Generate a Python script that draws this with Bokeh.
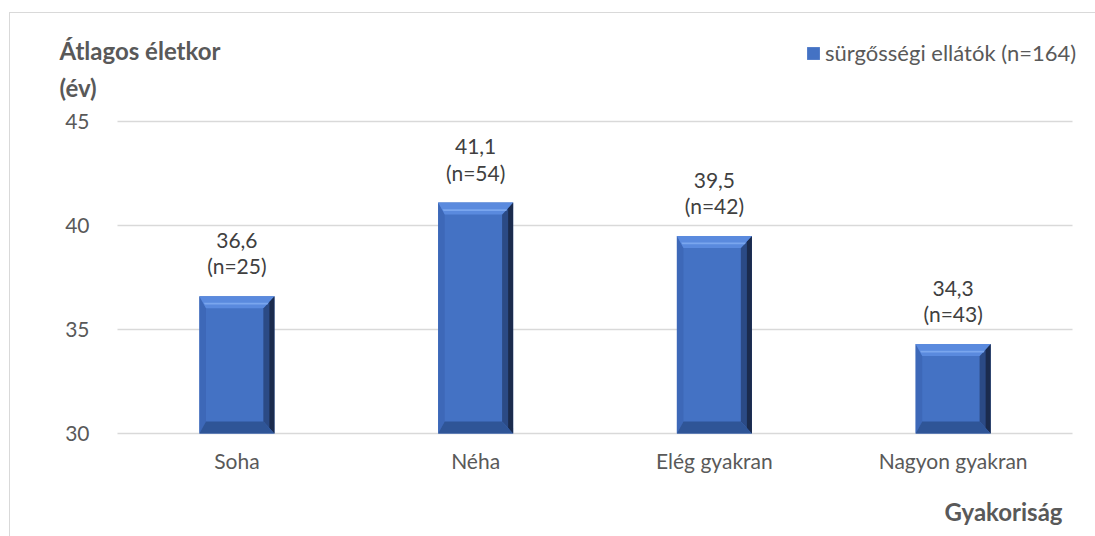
from bokeh.plotting import figure
from bokeh.models import Range1d, FixedTicker, Label, Legend, LegendItem, Title, Grid
from bokeh.core.properties import value
from bokeh.embed import file_html
from bokeh.resources import INLINE

# ---- data ----
categories = ["Soha", "Néha", "Elég gyakran", "Nagyon gyakran"]
mean_age = [36.6, 41.1, 39.5, 34.3]
group_n = [25, 54, 42, 43]
series_name = "sürgősségi ellátók (n=164)"
y_ticks = [30, 35, 40, 45]
y_title = "Átlagos életkor\n(év)"
x_title = "Gyakoriság"

# ---- layout / style ----
FONT = "Lato"
TXT = "#595959"
NC = len(categories)
Y0, Y1 = 30, 45
PX_X = 238.75          # pixels per category
PX_Y = 20.8            # pixels per year
FIG_W, FIG_H = 1085, 523
ML, MB = 48, 95        # left / bottom borders
FRAME_W = FIG_W - ML
FRAME_H = FIG_H - MB
PLOT_L = 59            # px from frame left to first category start
PLOT_T = 108           # px from frame top to value 45
BAR_HALF = 0.157

x_start = -PLOT_L / PX_X
x_end = x_start + FRAME_W / PX_X
y_end = Y1 + PLOT_T / PX_Y
y_start = y_end - FRAME_H / PX_Y

p = figure(frame_width=FRAME_W, frame_height=FRAME_H,
           x_range=Range1d(x_start, x_end), y_range=Range1d(y_start, y_end),
           min_border_left=ML, min_border_right=0,
           min_border_top=0, min_border_bottom=MB,
           output_backend="svg", toolbar_location=None)
p.outline_line_color = None
p.background_fill_color = "white"
p.border_fill_color = "white"
p.styles = {"margin-left": "9px", "margin-top": "12px",
            "border-top": "1px solid #d9d9d9", "border-left": "1px solid #d9d9d9"}

centers = [i + 0.5 for i in range(NC)]
lefts = [c - BAR_HALF for c in centers]
rights = [c + BAR_HALF for c in centers]
bottoms = [Y0] * NC

# gridlines limited to the plot area
p.xgrid.grid_line_color = None
if "cross_bounds" in Grid.properties():
    p.ygrid.ticker = FixedTicker(ticks=y_ticks)
    p.ygrid.cross_bounds = (0, NC)
    p.ygrid.grid_line_color = "#d9d9d9"
    p.ygrid.grid_line_width = 1.5
else:
    p.ygrid.grid_line_color = None
    p.segment(x0=[0] * len(y_ticks), x1=[NC] * len(y_ticks), y0=y_ticks, y1=y_ticks,
              line_color="#d9d9d9", line_width=1.5)

main = p.quad(left=lefts, right=rights, bottom=bottoms, top=mean_age,
              fill_color="#4472C4", line_color=None)

# bevel shading (pixel sizes converted to data units)
bx = 11 / PX_X
by = 12 / PX_Y
def poly(pts_fn, color):
    xs, ys = [], []
    for L, R, B, T in zip(lefts, rights, bottoms, mean_age):
        pts = pts_fn(L, R, B, T)
        xs.append([q[0] for q in pts]); ys.append([q[1] for q in pts])
    p.patches(xs, ys, fill_color=color, line_color=None)

poly(lambda L, R, B, T: [(L, T), (L, B), (L + bx * 0.6, B + by), (L + bx * 0.6, T - by)], "#3d68b8")
poly(lambda L, R, B, T: [(R, T), (R, B), (R - bx, B + by), (R - bx, T - by)], "#2b4a85")
poly(lambda L, R, B, T: [(R, T), (R, B), (R - bx * 0.45, B + by * 0.45), (R - bx * 0.45, T - by * 0.45)], "#1b2b4d")
poly(lambda L, R, B, T: [(L, B), (R, B), (R - bx, B + by), (L + bx * 0.6, B + by)], "#2f5597")
poly(lambda L, R, B, T: [(L, T), (R, T), (R - bx, T - by), (L + bx * 0.6, T - by)], "#5a8ade")
poly(lambda L, R, B, T: [(L + bx * 0.4, T - by * 0.55), (R - bx * 0.55, T - by * 0.55),
                         (R - bx * 0.62, T - by * 0.7), (L + bx * 0.5, T - by * 0.7)], "#7aa6ee")

# data labels
labels = [f"{v:.1f}".replace(".", ",") + f"\n(n={n})" for v, n in zip(mean_age, group_n)]
p.text(x=centers, y=mean_age, text=labels, text_align="center", text_baseline="bottom",
       y_offset=-18, text_font=value(FONT), text_font_size="21px", text_color="#404040",
       text_line_height=1.05)

# axes
p.yaxis.ticker = FixedTicker(ticks=y_ticks)
p.yaxis.fixed_location = 0
p.xaxis.ticker = FixedTicker(ticks=centers)
p.xaxis.major_label_overrides = {c: cat for c, cat in zip(centers, categories)}
for ax in (p.xaxis, p.yaxis):
    ax.axis_line_color = None
    ax.major_tick_line_color = None
    ax.minor_tick_line_color = None
    ax.major_label_text_font = FONT
    ax.major_label_text_font_size = "21px"
    ax.major_label_text_color = TXT
p.yaxis.major_label_standoff = 22
p.xaxis.major_label_standoff = 0

# y-axis title (inside the extended frame, top left)
p.add_layout(Label(x=x_start + 1 / PX_X, y=Y1 + 86 / PX_Y, text=y_title,
                   text_font=FONT, text_font_size="24px", text_font_style="bold",
                   text_color=TXT, text_baseline="top", text_line_height=1.3))

# x-axis title (below, right aligned)
p.add_layout(Title(text=x_title, align="right", offset=33, standoff=38,
                   text_font=FONT, text_font_size="24px", text_font_style="bold",
                   text_color=TXT), "below")

legend = Legend(items=[LegendItem(label=series_name, renderers=[main])],
                location=(747, 375), orientation="vertical",
                glyph_width=16, glyph_height=16, label_standoff=4,
                padding=0, margin=0, spacing=0,
                border_line_color=None, background_fill_alpha=0,
                label_text_font=FONT, label_text_font_size="22px", label_text_color=TXT)
p.add_layout(legend)

open("out.html", "w").write(file_html(p, INLINE))
